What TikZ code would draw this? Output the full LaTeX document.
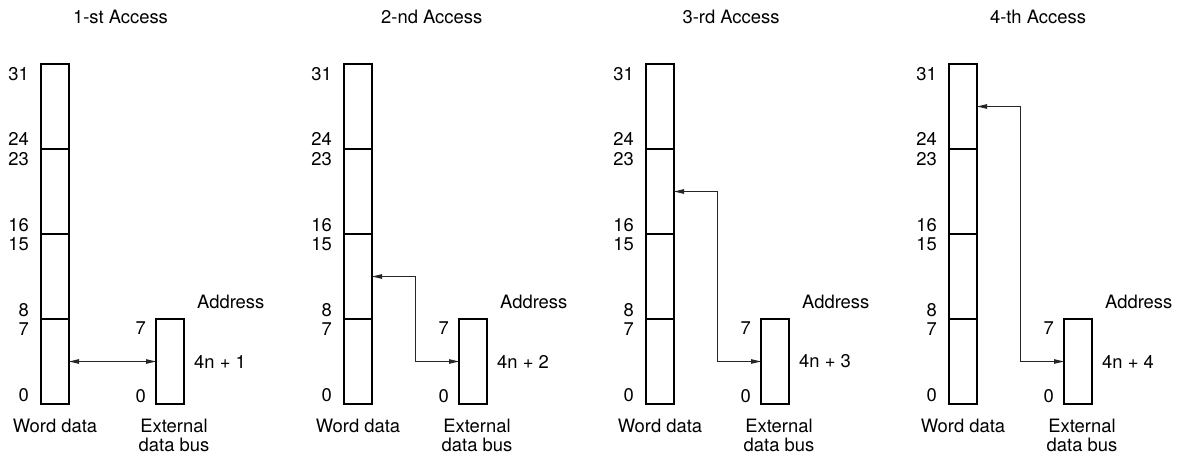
\documentclass[tikz,border=0pt]{standalone}
\usepackage{fontspec}
\setmainfont{TeX Gyre Heros}
\usetikzlibrary{positioning, calc, arrows.meta}

\begin{document}
\begin{tikzpicture}[x=1pt, y=-1pt, >={Triangle[length=10pt,width=4.5pt]},
    font=\fontsize{18.4}{19}\selectfont,
    cell/.style={draw, line width=2pt, minimum width=28pt, minimum height=85pt, inner sep=0pt, outer sep=0pt},
    bit/.style={inner sep=0pt},
    bus/.style={<->, line width=0.9pt, black!85}]
  \useasboundingbox (0,0) rectangle (1182,457);

  \foreach \i/\wx/\tx/\ord/\k in {1/55/120.5/st/0, 2/358/431.7/nd/1, 3/660/731/rd/2, 4/963/1038/th/3}{
    % Title of the access
    \node[bit, anchor=base] (t\i) at (\tx,24) {\i-\ord\ Access};

    % Word data, byte 3 on top
    \node[cell] (w\i b3) at (\wx,106.5) {};
    \node[cell, below=0pt of w\i b3] (w\i b2) {};
    \node[cell, below=0pt of w\i b2] (w\i b1) {};
    \node[cell, below=0pt of w\i b1] (w\i b0) {};
    \foreach \j/\hi/\lo in {3/31/24, 2/23/16, 1/15/8, 0/7/0}{
      \node[bit, anchor=north east] (w\i h\j) at ([xshift=-12pt,yshift=-3.5pt]w\i b\j.north west) {\hi};
      \node[bit, anchor=base east] (w\i l\j) at ([xshift=-12pt,yshift=3pt]w\i b\j.south west) {\lo};
    }
    \node[bit, below=15pt of w\i b0] (wl\i) {Word data};

    % External data bus
    \node[cell, right=87pt of w\i b0] (x\i) {};
    \node[bit, anchor=north east] (xh\i) at ([xshift=-10pt,yshift=-3pt]x\i.north west) {7};
    \node[bit, anchor=base east] (xl\i) at ([xshift=-10pt,yshift=2pt]x\i.south west) {0};
    \node[bit, anchor=base west] (a\i) at ([xshift=13pt,yshift=11pt]x\i.north east) {Address};
    \node[bit, anchor=west] (n\i) at ([xshift=10pt]x\i.east) {4n + \i};
    \node[bit, align=center, below=15pt of x\i, xshift=4pt] (xd\i) {External\\data bus};

    % Transfer
    \draw[bus] (w\i b\k.east) -| ($(w\i b\k.east)!0.5!(x\i.west)$) |- (x\i.west);
  }
\end{tikzpicture}
\end{document}
